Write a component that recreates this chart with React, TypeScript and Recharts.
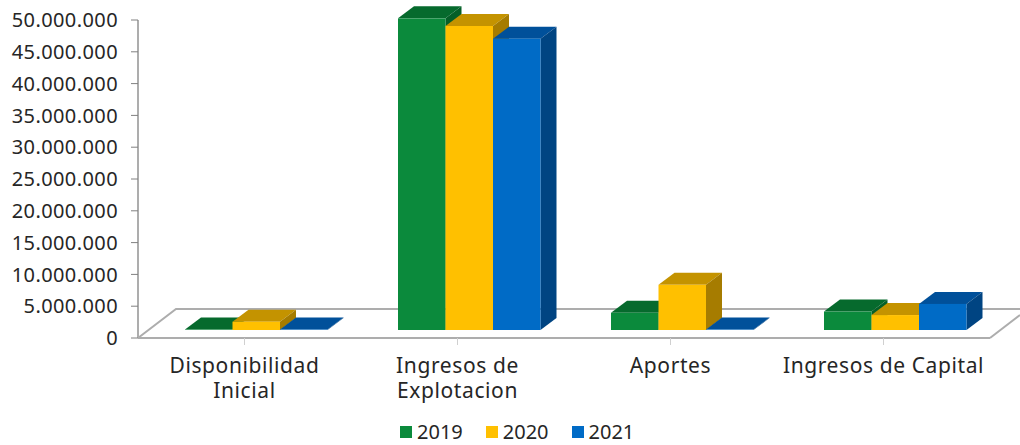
import React from 'react';
import { BarChart, Bar, XAxis, YAxis, Legend, usePlotArea } from 'recharts';

const categories = ['Disponibilidad Inicial', 'Ingresos de Explotacion', 'Aportes', 'Ingresos de Capital'];
const categoryLines: Record<string, string[]> = {
  'Disponibilidad Inicial': ['Disponibilidad', 'Inicial'],
  'Ingresos de Explotacion': ['Ingresos de', 'Explotacion'],
  'Aportes': ['Aportes'],
  'Ingresos de Capital': ['Ingresos de Capital'],
};
const values2019 = [60000, 49000000, 2700000, 2900000];
const values2020 = [1300000, 47800000, 7100000, 2350000];
const values2021 = [60000, 45800000, 60000, 4100000];
const yTicks = [0, 5000000, 10000000, 15000000, 20000000, 25000000, 30000000, 35000000, 40000000, 45000000, 50000000];

const data = categories.map((name, i) => ({
  name,
  y2019: values2019[i],
  y2020: values2020[i],
  y2021: values2021[i],
}));

const FONT = '"Noto Sans", sans-serif';
const TEXT = '#262626';
const GRID = '#ADADAD';
const DEPTH_X = 16;
const DEPTH_Y = 12;
const SHIFT_X = 12;
const SHIFT_Y = 8;

// fake 3D column: front face plus top and side faces
function box(front: string, top: string, side: string) {
  return (props: any) => {
    const x = props.x + SHIFT_X;
    const y = props.y - SHIFT_Y;
    const w = props.width;
    const h = props.height;
    return (
      <g>
        <polygon points={`${x},${y} ${x + DEPTH_X},${y - DEPTH_Y} ${x + w + DEPTH_X},${y - DEPTH_Y} ${x + w},${y}`} fill={top} />
        <polygon points={`${x + w},${y} ${x + w + DEPTH_X},${y - DEPTH_Y} ${x + w + DEPTH_X},${y + h - DEPTH_Y} ${x + w},${y + h}`} fill={side} />
        <rect x={x} y={y} width={w} height={h} fill={front} />
      </g>
    );
  };
}

// floor of the 3D plot
function Floor() {
  const plot = usePlotArea();
  if (!plot) return null;
  const left = plot.x;
  const right = left + plot.width;
  const bottom = plot.y + plot.height;
  const backY = bottom - 29;
  return (
    <g stroke={GRID} strokeWidth={2} fill="none">
      <polyline points={`${left},${bottom} ${left + 38},${backY} 1020,${backY}`} />
      <line x1={right} y1={bottom} x2={1020} y2={bottom - 23} />
    </g>
  );
}

function CategoryTick(props: any) {
  const { x, y, payload } = props;
  const lines = categoryLines[payload.value] || [payload.value];
  return (
    <text x={x} y={y} textAnchor="middle" fontFamily={FONT} fontSize={21} letterSpacing={0.6} fill={TEXT}>
      {lines.map((line, i) => (
        <tspan key={line} x={x} dy={i === 0 ? 26 : 25}>{line}</tspan>
      ))}
    </text>
  );
}

function YearLegend(props: any) {
  return (
    <div style={{ display: 'flex', paddingLeft: 400, fontFamily: FONT, fontSize: 20, color: TEXT, lineHeight: '27px' }}>
      {(props.payload || []).map((item: any) => (
        <div key={item.value} style={{ display: 'flex', alignItems: 'center', marginRight: 23 }}>
          <span style={{ width: 12, height: 12, background: item.color, marginRight: 5 }} />
          <span>{item.value}</span>
        </div>
      ))}
    </div>
  );
}

const fmt = (v: number) => String(v).replace(/\B(?=(\d{3})+(?!\d))/g, '.');

export default function App() {
  return (
    <div style={{ position: 'absolute', left: 0, top: 0, width: 1020, height: 445 }}>
      <BarChart
        width={1020}
        height={445}
        data={data}
        margin={{ top: 20, right: 30, bottom: 0, left: 0 }}
        barGap={0}
        barSize={47.5}
      >
        <Floor />
        <XAxis
          dataKey="name"
          interval={0}
          height={80}
          tick={<CategoryTick />}
          tickSize={7}
          axisLine={{ stroke: GRID, strokeWidth: 2 }}
          tickLine={{ stroke: '#D0D0D0' }}
        />
        <YAxis
          width={138}
          domain={[0, 50000000]}
          ticks={yTicks}
          interval={0}
          tickFormatter={fmt}
          tickSize={7}
          tickMargin={13}
          axisLine={{ stroke: GRID, strokeWidth: 2 }}
          tickLine={{ stroke: '#808080' }}
          tick={{ fontFamily: FONT, fontSize: 20, letterSpacing: 0.4, fill: TEXT }}
        />
        <Legend verticalAlign="bottom" content={<YearLegend />} />
        <Bar dataKey="y2019" name="2019" fill="#0B8A3C" isAnimationActive={false} shape={box('#0B8A3C', '#066A2D', '#055F28')} />
        <Bar dataKey="y2020" name="2020" fill="#FFC000" isAnimationActive={false} shape={box('#FFC000', '#C49300', '#A67C00')} />
        <Bar dataKey="y2021" name="2021" fill="#006BC6" isAnimationActive={false} shape={box('#006BC6', '#00509A', '#004482')} />
      </BarChart>
    </div>
  );
}
